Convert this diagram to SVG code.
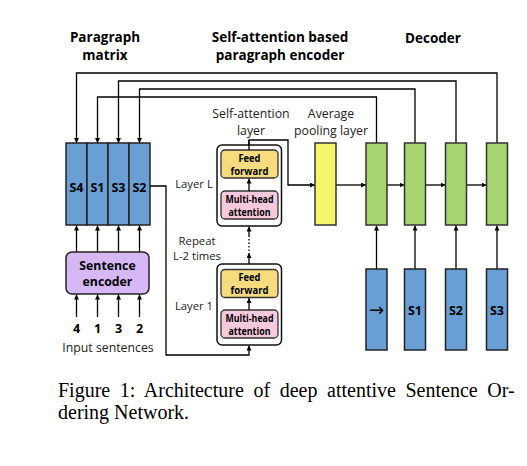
<svg xmlns="http://www.w3.org/2000/svg" width="527" height="466" viewBox="0 0 527 466">
<defs>
<marker id="ah" viewBox="0 0 10 10" refX="10" refY="5" markerWidth="5" markerHeight="5" orient="auto" markerUnits="userSpaceOnUse">
<path d="M0,0 L10,5 L0,10 z" fill="#000"/>
</marker>
<style>
.t{font-family:"Open Sans","Liberation Sans",sans-serif;fill:#222;text-anchor:middle;dominant-baseline:central}
.tb{font-family:"Open Sans","Liberation Sans",sans-serif;font-weight:bold;fill:#000;text-anchor:middle;dominant-baseline:central}
.ln{fill:none;stroke:#000;stroke-width:1.3}
.ar{fill:none;stroke:#000;stroke-width:1.3;marker-end:url(#ah)}
.blue{fill:#6A9FD6;stroke:#222;stroke-width:1.5}
.green{fill:#A8D46F;stroke:#333;stroke-width:1.5}
.yel{fill:#F5F56C;stroke:#333;stroke-width:1.5}
.ff{fill:#F6DC7E;stroke:#333;stroke-width:1.3}
.mh{fill:#F7C9DC;stroke:#333;stroke-width:1.3}
.outer{fill:#fff;stroke:#111;stroke-width:1.5}
.cap{font-family:"Liberation Serif","Times New Roman",serif;font-size:20px;fill:#000}
.sym{font-family:"DejaVu Sans",sans-serif;font-size:18px;fill:#000;text-anchor:middle;dominant-baseline:central}
</style>
</defs>
<rect width="527" height="466" fill="#fff"/>

<g id="titles">
<text class="tb" x="105" y="37" font-size="13.5">Paragraph</text>
<text class="tb" x="105" y="55" font-size="13.5">matrix</text>
<text class="tb" x="280" y="37" font-size="13.5">Self-attention based</text>
<text class="tb" x="280" y="55" font-size="13.5">paragraph encoder</text>
<text class="tb" x="433" y="38" font-size="13.5">Decoder</text>
<text class="t" x="251" y="113" font-size="12.3">Self-attention</text>
<text class="t" x="251" y="130" font-size="12.3">layer</text>
<text class="t" x="331" y="113" font-size="12.3">Average</text>
<text class="t" x="331" y="130" font-size="12.3">pooling layer</text>
<text class="t" x="194" y="183" font-size="11.3">Layer L</text>
<text class="t" x="197" y="240" font-size="11.3">Repeat</text>
<text class="t" x="197" y="255" font-size="11.3">L-2 times</text>
<text class="t" x="194" y="305" font-size="11.3">Layer 1</text>
<text class="t" x="108" y="347" font-size="12.3">Input sentences</text>
</g>

<g id="connectors">
<path class="ar" d="M497 143 V73 H76.5 V143"/>
<path class="ar" d="M456 143 V81 H118.5 V143"/>
<path class="ar" d="M415 143 V89 H139.5 V143"/>
<path class="ar" d="M376.5 143 V97 H97.5 V143"/>
<path class="ar" d="M76.5 252 V225.5"/>
<path class="ar" d="M97.5 252 V225.5"/>
<path class="ar" d="M118.5 252 V225.5"/>
<path class="ar" d="M139.5 252 V225.5"/>
<path class="ar" d="M76.5 317 V294.5"/>
<path class="ar" d="M97.5 317 V294.5"/>
<path class="ar" d="M118.5 317 V294.5"/>
<path class="ar" d="M139.5 317 V294.5"/>
<path class="ar" d="M150 186 H166 V355 H249 V345.5"/>
<path class="ar" d="M249 264 V253"/>
<path class="ln" d="M249 251 V237" stroke-dasharray="1.5 2"/>
<path class="ar" d="M249 237 V226.5"/>
<path class="ar" d="M249 150 V140 H288 V185 H315"/>
<path class="ar" d="M336 185 H366"/>
<path class="ar" d="M387 185 H404.5"/>
<path class="ar" d="M425.5 185 H445.5"/>
<path class="ar" d="M466.5 185 H486.5"/>
<path class="ar" d="M376.5 269 V225.5"/>
<path class="ar" d="M415 269 V225.5"/>
<path class="ar" d="M456 269 V225.5"/>
<path class="ar" d="M497 269 V225.5"/>
</g>

<g id="paragraph-matrix">
<rect class="blue" x="66" y="143" width="21" height="82"/>
<rect class="blue" x="87" y="143" width="21" height="82"/>
<rect class="blue" x="108" y="143" width="21" height="82"/>
<rect class="blue" x="129" y="143" width="21" height="82"/>
<text class="tb" x="76.5" y="187" font-size="12.5">S4</text>
<text class="tb" x="97.5" y="187" font-size="12.5">S1</text>
<text class="tb" x="118.5" y="187" font-size="12.5">S3</text>
<text class="tb" x="139.5" y="187" font-size="12.5">S2</text>
</g>

<g id="sentence-encoder">
<rect x="66" y="252" width="83" height="42" rx="6" fill="#D6B8F6" stroke="#222" stroke-width="1.5"/>
<text class="tb" x="107.5" y="265" font-size="12.3">Sentence</text>
<text class="tb" x="107.5" y="281" font-size="12.3">encoder</text>
</g>

<g id="inputs">
<text class="tb" x="76.5" y="328" font-size="12.5">4</text>
<text class="tb" x="97.5" y="328" font-size="12.5">1</text>
<text class="tb" x="118.5" y="328" font-size="12.5">3</text>
<text class="tb" x="139.5" y="328" font-size="12.5">2</text>
</g>

<g id="layer-L">
<rect class="outer" x="217" y="145" width="64.5" height="81" rx="5"/>
<rect class="ff" x="221" y="150" width="57" height="28" rx="4"/>
<text class="tb" x="249.5" y="158" font-size="10" textLength="22" lengthAdjust="spacingAndGlyphs">Feed</text>
<text class="tb" x="249.5" y="171" font-size="10" textLength="38" lengthAdjust="spacingAndGlyphs">forward</text>
<rect class="mh" x="221" y="191" width="57" height="28" rx="4"/>
<text class="tb" x="249.5" y="199" font-size="10" textLength="48" lengthAdjust="spacingAndGlyphs">Multi-head</text>
<text class="tb" x="249.5" y="212" font-size="10" textLength="42" lengthAdjust="spacingAndGlyphs">attention</text>
<path class="ar" d="M249 191 V178.5"/>
</g>

<g id="layer-1">
<rect class="outer" x="217" y="264" width="64.5" height="81" rx="5"/>
<rect class="ff" x="221" y="269.5" width="57" height="28" rx="4"/>
<text class="tb" x="249.5" y="277" font-size="10" textLength="22" lengthAdjust="spacingAndGlyphs">Feed</text>
<text class="tb" x="249.5" y="290" font-size="10" textLength="38" lengthAdjust="spacingAndGlyphs">forward</text>
<rect class="mh" x="221" y="310" width="57" height="28" rx="4"/>
<text class="tb" x="249.5" y="318" font-size="10" textLength="48" lengthAdjust="spacingAndGlyphs">Multi-head</text>
<text class="tb" x="249.5" y="331" font-size="10" textLength="42" lengthAdjust="spacingAndGlyphs">attention</text>
<path class="ar" d="M249 310 V298"/>
</g>
<path class="ln" d="M249 150 V140"/>

<g id="average-pooling">
<rect class="yel" x="315" y="143" width="21" height="82"/>
</g>

<g id="decoder">
<rect class="green" x="366" y="143" width="21" height="82"/>
<rect class="green" x="404.5" y="143" width="21" height="82"/>
<rect class="green" x="445.5" y="143" width="21" height="82"/>
<rect class="green" x="486.5" y="143" width="21" height="82"/>
</g>

<g id="decoder-inputs">
<rect class="blue" x="366" y="269" width="21" height="81"/>
<rect class="blue" x="404.5" y="269" width="21" height="81"/>
<rect class="blue" x="445.5" y="269" width="21" height="81"/>
<rect class="blue" x="486.5" y="269" width="21" height="81"/>
<text class="sym" x="376.5" y="309">→</text>
<text class="tb" x="415" y="310" font-size="12.5">S1</text>
<text class="tb" x="456" y="310" font-size="12.5">S2</text>
<text class="tb" x="497" y="310" font-size="12.5">S3</text>
</g>

<g id="caption">
<text class="cap" x="58" y="397" word-spacing="4.6">Figure 1: Architecture of deep attentive Sentence Or-</text>
<text class="cap" x="58" y="419">dering Network.</text>
</g>
</svg>
